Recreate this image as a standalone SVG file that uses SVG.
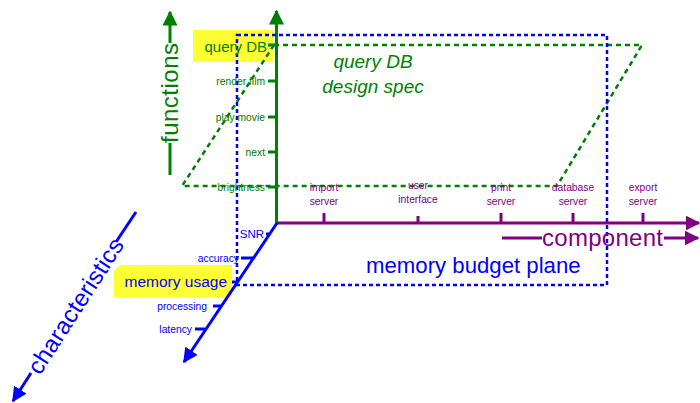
<svg xmlns="http://www.w3.org/2000/svg" width="700" height="403" viewBox="0 0 700 403">
<style>
text{font-family:"Liberation Sans",Arial,sans-serif}
.g{fill:#008000}.b{fill:#0000ff}.p{fill:#800080}
.sm{font-size:10.3px}
.gl{stroke:#008000;stroke-width:3;fill:none}
.bl{stroke:#0000ff;stroke-width:3;fill:none}
.pl{stroke:#800080;stroke-width:3;fill:none}
.gd{stroke:#008000;stroke-width:2.5;fill:none;stroke-dasharray:5 4}
.bd{stroke:#0000ff;stroke-width:2.5;fill:none;stroke-dasharray:4 3}
.hl{fill:#ffff33}
</style>
<defs>
<marker id="ag" viewBox="0 0 10 10" refX="9" refY="5" markerWidth="5" markerHeight="5" orient="auto" markerUnits="strokeWidth"><path d="M0,0L10,5L0,10z" fill="#008000"/></marker>
<marker id="ab" viewBox="0 0 10 10" refX="9" refY="5" markerWidth="5" markerHeight="5" orient="auto" markerUnits="strokeWidth"><path d="M0,0L10,5L0,10z" fill="#0000ff"/></marker>
<marker id="ap" viewBox="0 0 10 10" refX="9" refY="5" markerWidth="5" markerHeight="5" orient="auto" markerUnits="strokeWidth"><path d="M0,0L10,5L0,10z" fill="#800080"/></marker>
</defs>

<g id="highlights">
<rect class="hl" x="193" y="30" width="81" height="32"/>
<polygon class="hl" points="120,265 232,265 232,297 114,297 114,271"/>
</g>

<g id="connectors">
<line class="gl" x1="276.5" y1="223" x2="276.5" y2="11" marker-end="url(#ag)"/>
<g stroke="#008000" stroke-width="3">
<line x1="268" y1="45" x2="276" y2="45"/>
<line x1="268" y1="81" x2="276" y2="81"/>
<line x1="268" y1="117" x2="276" y2="117"/>
<line x1="268" y1="152" x2="276" y2="152"/>
<line x1="268" y1="187" x2="276" y2="187"/>
</g>
<line class="pl" x1="277" y1="223" x2="699" y2="223" marker-end="url(#ap)"/>
<g stroke="#800080" stroke-width="3">
<line x1="324" y1="213" x2="324" y2="223"/>
<line x1="418" y1="216" x2="418" y2="223"/>
<line x1="501" y1="213" x2="501" y2="223"/>
<line x1="573" y1="213" x2="573" y2="223"/>
<line x1="643" y1="213" x2="643" y2="223"/>
</g>
<line class="bl" x1="277" y1="223" x2="184" y2="362" marker-end="url(#ab)"/>
<g stroke="#0000ff" stroke-width="3">
<line x1="266" y1="234" x2="270" y2="234"/>
<line x1="241" y1="258" x2="253" y2="258"/>
<line x1="232" y1="282" x2="237" y2="282"/>
<line x1="213" y1="306" x2="221" y2="306"/>
<line x1="195" y1="329" x2="205" y2="329"/>
</g>
<polygon class="gd" points="274,45 642,45 557,186 182,186"/>
<rect class="bd" x="237" y="35" width="370" height="250"/>
<line class="gl" x1="170" y1="175" x2="170" y2="143"/>
<line class="gl" x1="170" y1="43" x2="170" y2="12" marker-end="url(#ag)"/>
<line class="pl" x1="502" y1="238" x2="542" y2="238"/>
<line class="pl" x1="664" y1="238" x2="698" y2="238" marker-end="url(#ap)"/>
<line class="bl" x1="136" y1="212" x2="116" y2="242"/>
<line class="bl" x1="31" y1="373" x2="13" y2="401" marker-end="url(#ab)"/>
</g>

<g id="functions-label"><text class="g" font-size="24" transform="translate(178,143) rotate(-90)" textLength="100">functions</text></g>
<g id="component-label"><text class="p" font-size="24" x="542" y="246" textLength="121">component</text></g>
<g id="characteristics-label"><text class="b" font-size="24" transform="translate(40,376) rotate(-57.1)" textLength="156">characteristics</text></g>

<g id="function-ticks" class="g sm" text-anchor="end">
<text x="267" y="52" font-size="15">query DB</text>
<text x="265" y="85">render film</text>
<text x="265" y="121">play movie</text>
<text x="265" y="156">next</text>
<text x="265" y="191">brightness</text>
</g>

<g id="component-ticks" class="p sm" text-anchor="middle">
<text x="324" y="191">import</text><text x="324" y="205">server</text>
<text x="418" y="189">user</text><text x="418" y="203">interface</text>
<text x="501" y="191">print</text><text x="501" y="205">server</text>
<text x="573" y="191">database</text><text x="573" y="205">server</text>
<text x="643" y="191">export</text><text x="643" y="205">server</text>
</g>

<g id="characteristic-ticks" class="b sm" text-anchor="end">
<text x="264" y="238" font-size="11.5">SNR</text>
<text x="239" y="262">accuracy</text>
<text x="227" y="287" font-size="15.5">memory usage</text>
<text x="207" y="310">processing</text>
<text x="192" y="333">latency</text>
</g>

<g id="spec-label"><text class="g" font-size="19" font-style="italic" text-anchor="middle"><tspan x="373" y="68">query DB</tspan><tspan x="373" y="93">design spec</tspan></text></g>
<g id="plane-label"><text class="b" font-size="22.2" x="366" y="273">memory budget plane</text></g>
</svg>
